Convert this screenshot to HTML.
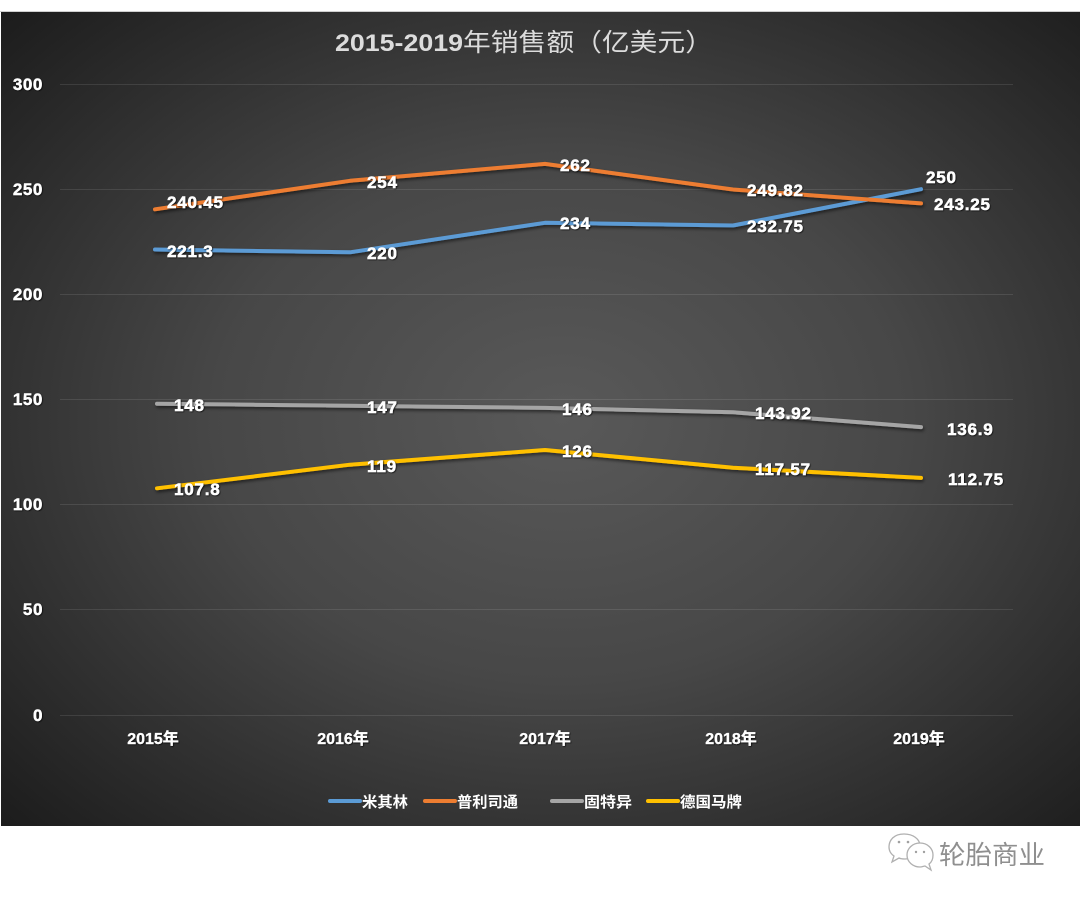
<!DOCTYPE html>
<html>
<head>
<meta charset="utf-8">
<style>
html,body{margin:0;padding:0;background:#fff;}
svg{display:block;}
</style>
</head>
<body>
<svg width="1080" height="901" viewBox="0 0 1080 901" xmlns="http://www.w3.org/2000/svg">
<defs>
<radialGradient id="bg" cx="0.52" cy="0.5" r="0.72">
<stop offset="0" stop-color="#595959"/>
<stop offset="0.45" stop-color="#474747"/>
<stop offset="1" stop-color="#1c1c1c"/>
</radialGradient>
<filter id="ls" x="-5%" y="-50%" width="110%" height="200%">
<feDropShadow dx="1" dy="2" stdDeviation="1.5" flood-color="#000" flood-opacity="0.55"/>
</filter>
<filter id="ts" x="-10%" y="-30%" width="120%" height="160%">
<feDropShadow dx="0.8" dy="0.8" stdDeviation="0.6" flood-color="#000" flood-opacity="0.8"/>
</filter>
</defs>
<rect x="0" y="0" width="1080" height="901" fill="#fff"/>
<rect x="0" y="11" width="1080" height="1" fill="#cfcfcf"/>
<rect x="1" y="12" width="1079" height="814" fill="url(#bg)"/>

<!-- title -->
<text x="335" y="51" font-family="Liberation Sans, sans-serif" font-weight="bold" font-size="24" fill="#dcdcdc" textLength="128" lengthAdjust="spacingAndGlyphs">2015-2019</text>
<text x="463" y="51" font-family="Liberation Sans, 'Noto Sans CJK SC', sans-serif" font-size="25" fill="#dcdcdc" textLength="250" lengthAdjust="spacingAndGlyphs">年销售额（亿美元）</text>

<!-- gridlines -->
<g stroke="#ffffff" stroke-opacity="0.1" stroke-width="1">
<line x1="60" y1="84.5" x2="1013" y2="84.5"/>
<line x1="60" y1="189.5" x2="1013" y2="189.5"/>
<line x1="60" y1="294.5" x2="1013" y2="294.5"/>
<line x1="60" y1="399.5" x2="1013" y2="399.5"/>
<line x1="60" y1="504.5" x2="1013" y2="504.5"/>
<line x1="60" y1="609.5" x2="1013" y2="609.5"/>
<line x1="60" y1="715.5" x2="1013" y2="715.5"/>
</g>

<!-- y axis labels -->
<g font-family="Liberation Sans, sans-serif" font-weight="bold" font-size="17" fill="#fff" stroke="#fff" stroke-width="0.4" letter-spacing="0.6" text-anchor="end" filter="url(#ts)">
<text x="43" y="90">300</text>
<text x="43" y="195">250</text>
<text x="43" y="300">200</text>
<text x="43" y="405">150</text>
<text x="43" y="510">100</text>
<text x="43" y="615">50</text>
<text x="43" y="721">0</text>
</g>

<!-- x axis labels -->
<g font-family="Liberation Sans, 'Noto Sans CJK SC', sans-serif" font-weight="bold" font-size="16" fill="#fff" stroke="#fff" stroke-width="0.3" text-anchor="middle" filter="url(#ts)">
<text x="153" y="744">2015年</text>
<text x="343" y="744">2016年</text>
<text x="545" y="744">2017年</text>
<text x="731" y="744">2018年</text>
<text x="919" y="744">2019年</text>
</g>

<!-- series -->
<g fill="none" stroke-width="4" stroke-linejoin="round" stroke-linecap="round" filter="url(#ls)">
<polyline stroke="#ffc000" points="157,488.3 350,464.7 545,450 733,467.7 921,477.9"/>
<polyline stroke="#a5a5a5" points="157,403.7 350,405.8 545,407.9 733,412.3 921,427.1"/>
<polyline stroke="#5b9bd5" points="155,249.5 350,252.3 545,222.8 733,225.5 921,189.2"/>
<polyline stroke="#ed7d31" points="155,209.3 350,180.8 545,163.9 733,189.5 921,203.4"/>
</g>

<!-- data labels -->
<g font-family="Liberation Sans, sans-serif" font-weight="bold" font-size="17" fill="#fff" stroke="#fff" stroke-width="0.5" letter-spacing="0.8" filter="url(#ts)">
<text x="167" y="208">240.45</text>
<text x="367" y="188">254</text>
<text x="560" y="171">262</text>
<text x="747" y="196">249.82</text>
<text x="934" y="210">243.25</text>
<text x="926" y="183">250</text>
<text x="167" y="257">221.3</text>
<text x="367" y="259">220</text>
<text x="560" y="229">234</text>
<text x="747" y="232">232.75</text>
<text x="174" y="411">148</text>
<text x="367" y="413">147</text>
<text x="562" y="415">146</text>
<text x="755" y="419">143.92</text>
<text x="947" y="435">136.9</text>
<text x="174" y="495">107.8</text>
<text x="367" y="472">119</text>
<text x="562" y="457">126</text>
<text x="755" y="475">117.57</text>
<text x="948" y="485">112.75</text>
</g>

<!-- legend -->
<g stroke-width="4" stroke-linecap="round">
<line x1="330" y1="801" x2="360" y2="801" stroke="#5b9bd5"/>
<line x1="425" y1="801" x2="455" y2="801" stroke="#ed7d31"/>
<line x1="552" y1="801" x2="582" y2="801" stroke="#a5a5a5"/>
<line x1="648" y1="801" x2="678" y2="801" stroke="#ffc000"/>
</g>
<g font-family="Liberation Sans, 'Noto Sans CJK SC', sans-serif" font-weight="bold" font-size="15" fill="#fff">
<text x="362" y="807" textLength="46" lengthAdjust="spacingAndGlyphs">米其林</text>
<text x="457" y="807" textLength="61" lengthAdjust="spacingAndGlyphs">普利司通</text>
<text x="584" y="807" textLength="48" lengthAdjust="spacingAndGlyphs">固特异</text>
<text x="680" y="807" textLength="62" lengthAdjust="spacingAndGlyphs">德国马牌</text>
</g>

<!-- watermark -->
<g fill="#fff" stroke="#b0b0b0" stroke-width="1.3">
<path d="M904,834 C894,834 889,840 889,847 C889,851 891,854 894,856 L892,862 L899,858 C901,859 903,859 905,859 C914,859 920,853 920,846 C920,839 913,834 904,834 Z"/>
<path d="M920,843 C912,843 907,849 907,855 C907,862 913,867 920,867 C922,867 924,866 925,866 L931,870 L929,864 C932,862 933,859 933,855 C933,849 928,843 920,843 Z"/>
</g>
<g fill="#a0a0a0">
<circle cx="899" cy="842" r="1.3"/>
<circle cx="908" cy="842" r="1.3"/>
<circle cx="916" cy="852" r="1.2"/>
<circle cx="924" cy="852" r="1.2"/>
</g>
<text x="939" y="864" font-family="Liberation Sans, 'Noto Sans CJK SC', sans-serif" font-size="26" fill="#8f8f8f" textLength="106" lengthAdjust="spacingAndGlyphs">轮胎商业</text>
</svg>
</body>
</html>
